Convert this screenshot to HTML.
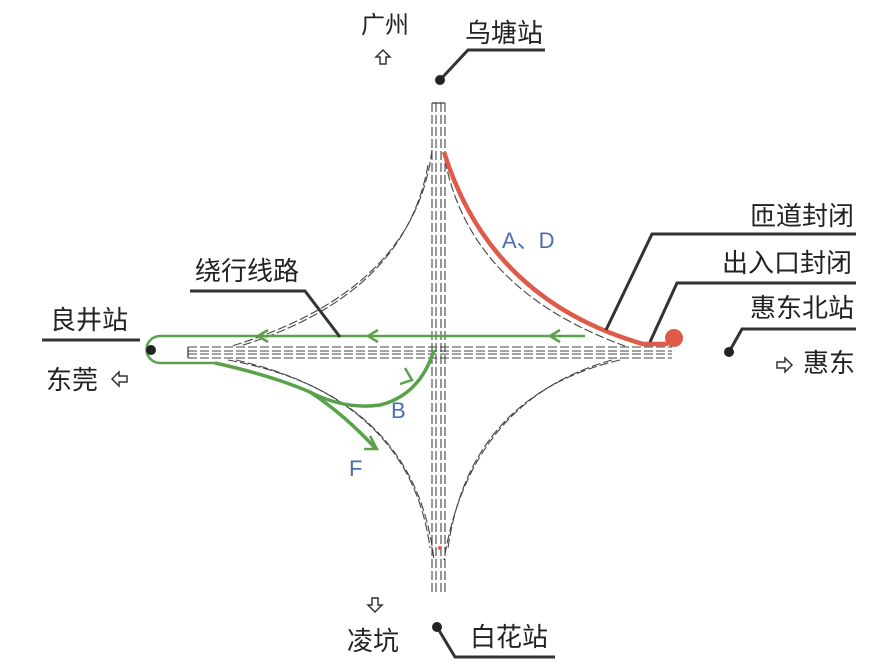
<!DOCTYPE html>
<html><head><meta charset="utf-8"><style>
html,body{margin:0;padding:0;background:#fff;}
svg{display:block;}
text{font-family:"Liberation Sans","Noto Sans CJK SC",sans-serif;}
</style></head><body>
<svg width="889" height="670" viewBox="0 0 889 670" xmlns="http://www.w3.org/2000/svg">
<rect width="889" height="670" fill="#fff"/>
<g fill="none" stroke="#444" stroke-width="1.1" stroke-dasharray="9,3">
<line x1="432" y1="103" x2="432" y2="592"/>
<line x1="436" y1="103" x2="436" y2="592"/>
<line x1="441" y1="103" x2="441" y2="592"/>
<line x1="445" y1="103" x2="445" y2="592"/>
<line x1="188" y1="347" x2="672" y2="347"/>
<line x1="188" y1="351" x2="672" y2="351"/>
<line x1="188" y1="354" x2="672" y2="354"/>
<line x1="188" y1="358" x2="672" y2="358"/>
<path d="M432,150 Q415,290 232,346"/>
<path d="M428,165 Q405,295 240,346"/>
<path d="M445,160 Q470,290 625,346"/>
<path d="M620,360 Q470,395 448,548"/>
<path d="M612,360 Q470,400 444,560"/>
<path d="M236,360 Q410,400 430,548"/>
<path d="M228,360 Q415,395 434,560"/>
</g>
<line x1="188" y1="347" x2="188" y2="358" stroke="#333" stroke-width="1.2"/>
<line x1="432" y1="103" x2="445" y2="103" stroke="#333" stroke-width="1.2"/>
<path d="M444,152 Q490,300 643,344 L668,344" fill="none" stroke="#e05a4a" stroke-width="4.5"/>
<circle cx="674" cy="338" r="9" fill="#e05a4a"/>
<circle cx="440" cy="548" r="2" fill="#e05a4a"/>
<g fill="none" stroke="#5aa24a" stroke-width="2.5">
<path d="M585,336 L160,336 A13,13 0 0 0 160,363 L215,363"/>
<path d="M215,363 Q270,375 310,392 Q345,410 380,405 Q420,395 434,350" stroke-width="3.5"/>
<path d="M310,392 Q345,415 375,448" stroke-width="3.5"/>
<path d="M268,330 L258,336 L268,342"/>
<path d="M378,330 L368,336 L378,342"/>
<path d="M560,330 L550,336 L560,342"/>
<path d="M405,368 L412,380 L400,384"/>
<path d="M370,436 L377,449 L364,449"/>
</g>
<circle cx="151" cy="350" r="5" fill="#222"/>
<g stroke="#333" stroke-width="3" fill="none">
<path d="M545,50 L468,50 L440,80"/>
<path d="M856,234 L652,234 L606,330"/>
<path d="M856,283 L677,283 L650,342"/>
<path d="M856,329 L742,329 L729,352"/>
<path d="M42,340 L140,340"/>
<path d="M190,291 L305,291 L340,337"/>
<path d="M555,657 L455,657 L437,627"/>
</g>
<circle cx="440" cy="80" r="5" fill="#222"/>
<circle cx="729" cy="352" r="5" fill="#222"/>
<circle cx="437" cy="627" r="5" fill="#222"/>
<g font-size="26" fill="#222">
<text x="465" y="42">乌塘站</text>
<text x="750" y="225">匝道封闭</text>
<text x="722" y="272">出入口封闭</text>
<text x="750" y="317">惠东北站</text>
<text x="803" y="372">惠东</text>
<text x="50" y="329">良井站</text>
<text x="46" y="389">东莞</text>
<text x="195" y="280">绕行线路</text>
<text x="470" y="646">白花站</text>
<text x="347" y="650">凌坑</text>
<text x="361" y="33" font-size="24">广州</text>
</g>
<g font-size="22" fill="#4a6fb0">
<text x="502" y="248">A、D</text>
<text x="391" y="418">B</text>
<text x="349" y="476">F</text>
</g>
<g fill="#fff" stroke="#333" stroke-width="1.5">
<path d="M383,50 L376,57 L380,57 L380,64 L386,64 L386,57 L390,57 Z"/>
<path d="M375,612 L368,605 L372,605 L372,598 L378,598 L378,605 L382,605 Z"/>
<path d="M792,365 L785,358 L785,362 L777,362 L777,368 L785,368 L785,372 Z"/>
<path d="M112,379 L119,372 L119,376 L127,376 L127,382 L119,382 L119,386 Z"/>
</g>
</svg>
</body></html>
